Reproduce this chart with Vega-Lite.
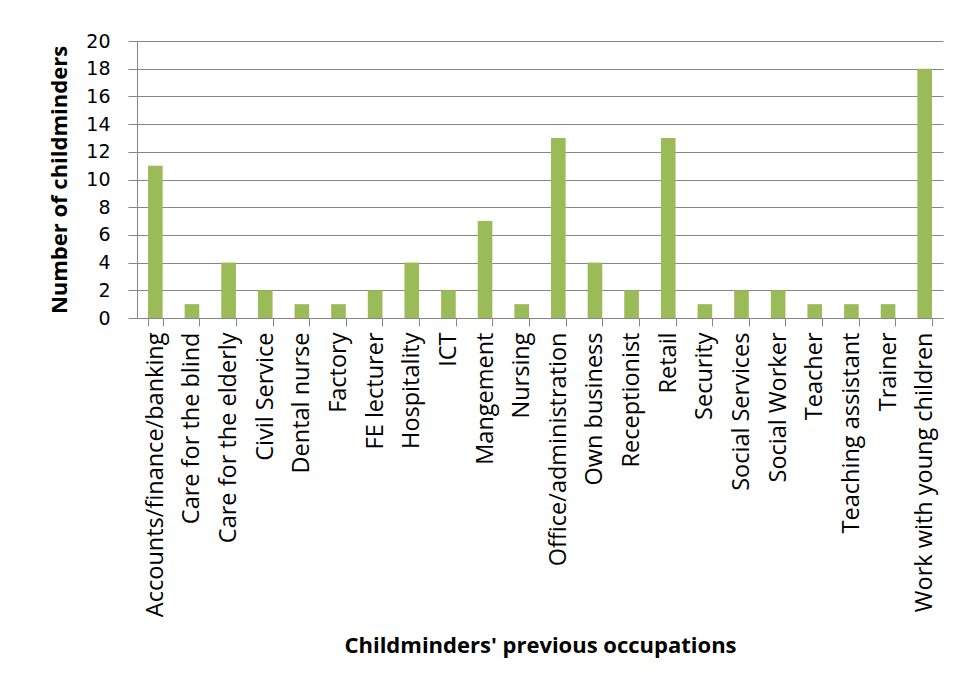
{
  "$schema": "https://vega.github.io/schema/vega-lite/v6.json",
  "width": 806,
  "height": 277,
  "autosize": {"type": "none"},
  "padding": {"left": 137, "top": 41, "right": 17, "bottom": 371},
  "background": "white",
  "config": {
    "view": {"stroke": null},
    "font": "Open Sans"
  },
  "data": {
    "values": [
      {"occupation": "Accounts/finance/banking", "count": 11},
      {"occupation": "Care for the blind", "count": 1},
      {"occupation": "Care for the elderly", "count": 4},
      {"occupation": "Civil Service", "count": 2},
      {"occupation": "Dental nurse", "count": 1},
      {"occupation": "Factory", "count": 1},
      {"occupation": "FE lecturer", "count": 2},
      {"occupation": "Hospitality", "count": 4},
      {"occupation": "ICT", "count": 2},
      {"occupation": "Mangement", "count": 7},
      {"occupation": "Nursing", "count": 1},
      {"occupation": "Office/administration", "count": 13},
      {"occupation": "Own business", "count": 4},
      {"occupation": "Receptionist", "count": 2},
      {"occupation": "Retail", "count": 13},
      {"occupation": "Security", "count": 1},
      {"occupation": "Social Services", "count": 2},
      {"occupation": "Social Worker", "count": 2},
      {"occupation": "Teacher", "count": 1},
      {"occupation": "Teaching assistant", "count": 1},
      {"occupation": "Trainer", "count": 1},
      {"occupation": "Work with young children", "count": 18}
    ]
  },
  "mark": {"type": "bar", "color": "#9BBB59"},
  "encoding": {
    "x": {
      "field": "occupation",
      "type": "nominal",
      "sort": null,
      "scale": {"paddingInner": 0.6, "paddingOuter": 0.3},
      "axis": {
        "title": "Childminders' previous occupations",
        "titleFont": "Open Sans",
        "titleFontSize": 22,
        "titleFontWeight": "bold",
        "titleColor": "#000000",
        "titlePadding": 117,
        "labelAngle": -90,
        "labelFontSize": 23.5,
        "labelLimit": 400,
        "labelColor": "#000000",
        "labelPadding": 6,
        "tickBand": "extent",
        "tickSize": 8,
        "tickColor": "#868686",
        "domainColor": "#868686",
        "grid": false
      }
    },
    "y": {
      "field": "count",
      "type": "quantitative",
      "scale": {"domain": [0, 20]},
      "axis": {
        "title": "Number of childminders",
        "titleFontSize": 22,
        "titleFontWeight": "bold",
        "titleColor": "#000000",
        "titlePadding": 14,
        "values": [0, 2, 4, 6, 8, 10, 12, 14, 16, 18, 20],
        "labelFont": "DejaVu Sans",
        "labelFontSize": 19,
        "labelColor": "#000000",
        "labelPadding": 18,
        "tickSize": 9,
        "tickColor": "#868686",
        "domainColor": "#868686",
        "gridColor": "#868686",
        "gridWidth": 1
      }
    }
  }
}
